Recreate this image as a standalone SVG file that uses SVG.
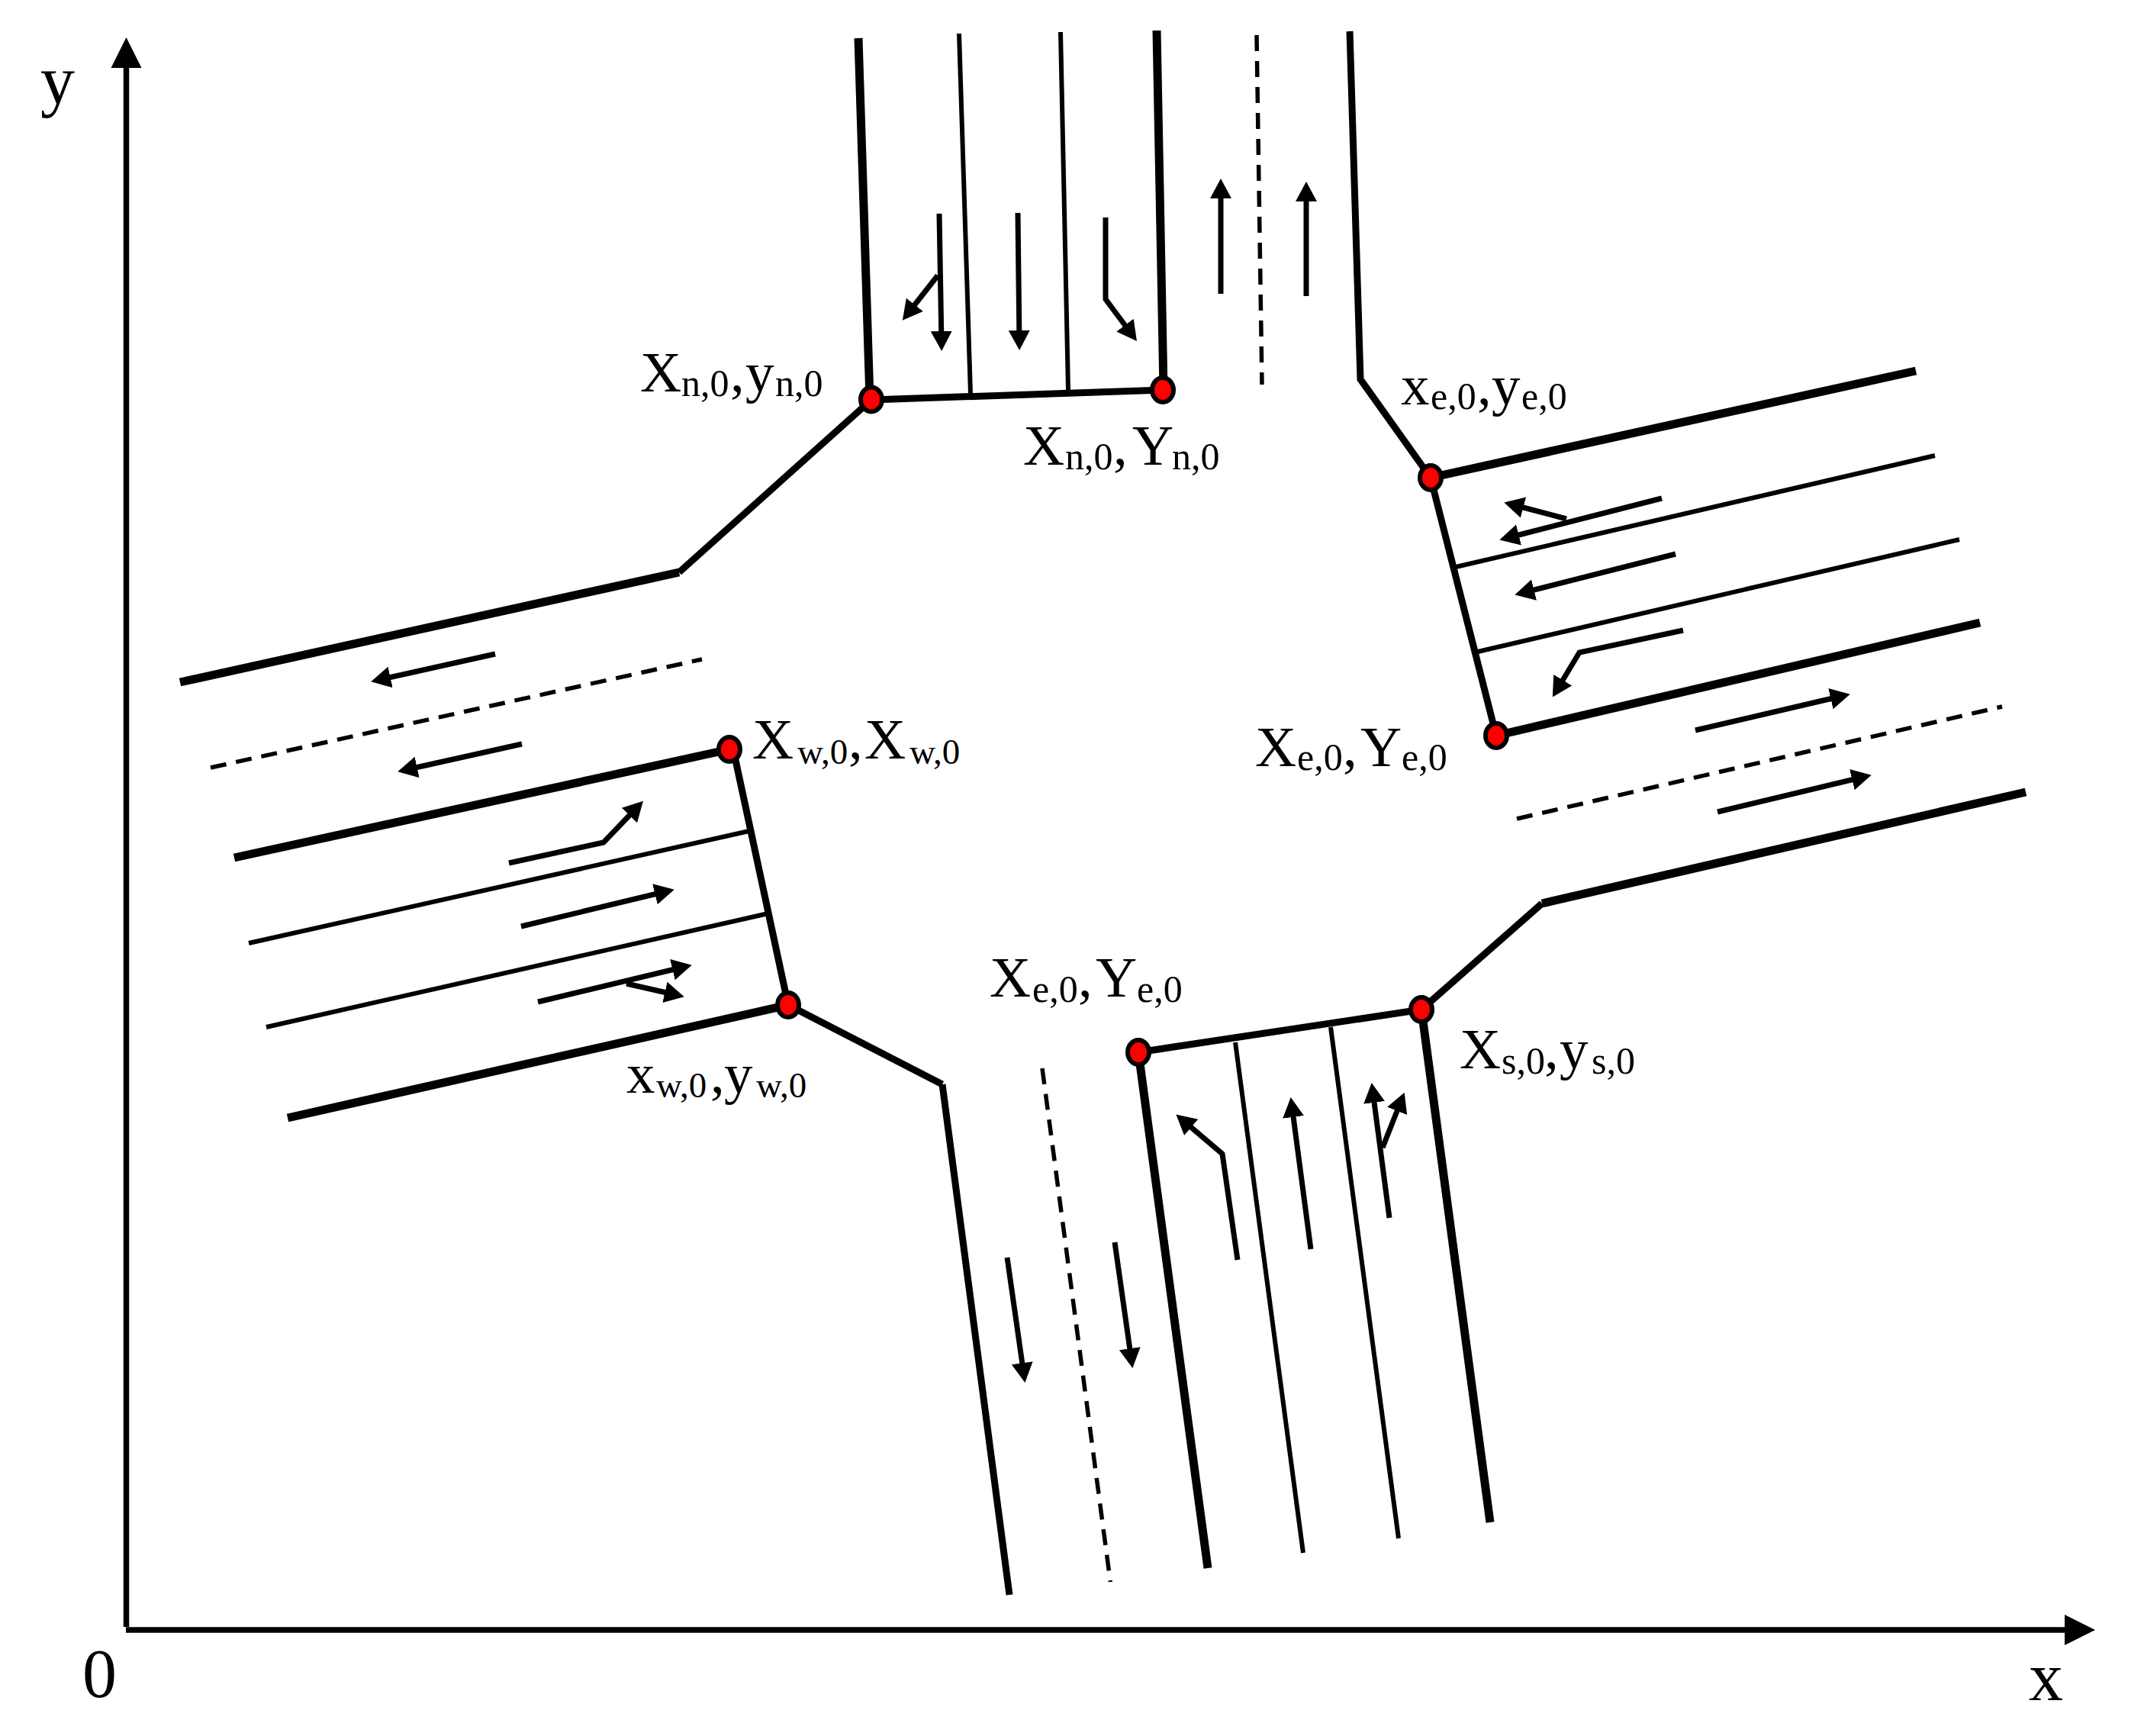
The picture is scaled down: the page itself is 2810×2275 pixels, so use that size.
<svg xmlns="http://www.w3.org/2000/svg" width="2810" height="2275" viewBox="0 0 2810 2275">
<style>
.thick{fill:none;stroke:#000;stroke-width:11}
.mid{fill:none;stroke:#000;stroke-width:9}
.thin{fill:none;stroke:#000;stroke-width:6}
.dash{fill:none;stroke:#000;stroke-width:5.5;stroke-dasharray:21 13}
.arr{fill:none;stroke:#000;stroke-width:7;marker-end:url(#head)}
.axis{fill:none;stroke:#000;stroke-width:7.5;marker-end:url(#axhead)}
.dot{fill:#f00;stroke:#000;stroke-width:6}
text{font-family:"Liberation Serif","Times New Roman",serif;fill:#000}
.b{font-size:75px}
.s{font-size:50px}
.w{font-size:47px}
.ax{font-size:90px}
</style>
<defs>
<marker id="head" markerUnits="userSpaceOnUse" markerWidth="32" markerHeight="32" viewBox="0 -16 32 32" refX="16" refY="0" orient="auto"><polygon points="0,-14 26,0 0,14"/></marker>
<marker id="axhead" markerUnits="userSpaceOnUse" markerWidth="44" markerHeight="44" viewBox="0 -22 44 44" refX="5" refY="0" orient="auto"><polygon points="0,-20 40,0 0,20"/></marker>
</defs>
<rect width="2810" height="2275" fill="#fff"/>
<g id="axes">
<path class="axis" d="M165.5,2132V84"/>
<path class="axis" d="M165,2136H2711"/>
<text class="ax" x="53" y="136">y</text>
<text class="ax" x="108" y="2224">0</text>
<text class="ax" x="2659" y="2228">x</text>
</g>
<g id="connectors">
<path class="thick" d="M1125,50L1140,523"/>
<path class="thin" d="M1257,44L1272,516"/>
<path class="thin" d="M1390,42L1400,511"/>
<path class="thick" d="M1516,40L1525,511"/>
<path class="mid" d="M1142,524L1525,511"/>
<path class="dash" d="M1647,46L1654,504"/>
<path class="mid" d="M1769,41L1783,497L1875,626"/>
<path class="mid" d="M1142,524L890,750"/>
<path class="thick" d="M890,750L236,894"/>
<path class="thick" d="M1875,626L2511,486"/>
<path class="thin" d="M1908,743L2536,597"/>
<path class="thin" d="M1937,854L2568,707"/>
<path class="thick" d="M1961,964L2595,816"/>
<path class="mid" d="M1875,626L1961,964"/>
<path class="dash" d="M1988,1073L2624,926"/>
<path class="mid" d="M1863,1323L2021,1184"/>
<path class="thick" d="M2021,1184L2655,1038"/>
<path class="dash" d="M276,1006L920,864"/>
<path class="thick" d="M307,1124L956,982"/>
<path class="thin" d="M326,1236L982,1089"/>
<path class="thin" d="M349,1346L1007,1197"/>
<path class="thick" d="M377,1465L1033,1317"/>
<path class="mid" d="M961,982L1033,1317"/>
<path class="mid" d="M1033,1317L1235,1421"/>
<path class="mid" d="M1235,1421L1323,2090"/>
<path class="dash" style="stroke-dasharray:21 12.85" d="M1366,1400L1455.3,2073"/>
<path class="mid" d="M1492,1379L1863,1323"/>
<path class="thick" d="M1492,1379L1583,2055"/>
<path class="thin" d="M1619,1366L1708,2035"/>
<path class="thin" d="M1744,1346L1833,2016"/>
<path class="thick" d="M1863,1323L1953,1995"/>
<path class="arr" d="M1231,280L1234,450"/>
<path class="arr" d="M1229,361L1189,412"/>
<path class="arr" d="M1334,279L1336,449"/>
<path class="arr" d="M1449,285V392L1484,439"/>
<path class="arr" d="M1600,385V244"/>
<path class="arr" d="M1712,388V248"/>
<path class="arr" d="M2178,653L1975,705"/>
<path class="arr" d="M2053,680L1981,661"/>
<path class="arr" d="M2196,726L1995,777"/>
<path class="arr" d="M2206,826L2070,855L2040,905"/>
<path class="arr" d="M2222,957L2415,912"/>
<path class="arr" d="M2251,1064L2443,1018"/>
<path class="arr" d="M649,857L496,891"/>
<path class="arr" d="M684,975L531,1009"/>
<path class="arr" d="M667,1131L791,1104L836,1057"/>
<path class="arr" d="M683,1214L874,1168"/>
<path class="arr" d="M705,1313L897,1267"/>
<path class="arr" d="M821,1289L887,1304"/>
<path class="arr" d="M1320,1648L1342,1802"/>
<path class="arr" d="M1461,1628L1483,1783"/>
<path class="arr" d="M1622,1651L1602,1512L1549,1467"/>
<path class="arr" d="M1718,1637L1693,1448"/>
<path class="arr" d="M1821,1596L1799,1429"/>
<path class="arr" d="M1812,1504L1837,1441"/>
</g>
<g id="node-n1"><ellipse class="dot" cx="1142" cy="523.5" rx="14" ry="16"/>
<text><tspan class="b" x="839" y="513">X</tspan><tspan class="s" x="893" y="519">n,0</tspan><tspan class="b" x="957" y="513">,</tspan><tspan class="b" x="977" y="513">y</tspan><tspan class="s" x="1016" y="519">n,0</tspan></text></g>
<g id="node-n2"><ellipse class="dot" cx="1524" cy="511" rx="14" ry="16"/>
<text><tspan class="b" x="1341" y="609">X</tspan><tspan class="s" x="1396" y="615">n,0</tspan><tspan class="b" x="1459" y="609">,</tspan><tspan class="b" x="1484" y="609">Y</tspan><tspan class="s" x="1536" y="615">n,0</tspan></text></g>
<g id="node-e1"><ellipse class="dot" cx="1875" cy="626" rx="14" ry="16"/>
<text><tspan class="b" x="1836" y="530">x</tspan><tspan class="s" x="1875" y="536">e,0</tspan><tspan class="b" x="1936" y="530">,</tspan><tspan class="b" x="1955" y="530">y</tspan><tspan class="s" x="1994" y="536">e,0</tspan></text></g>
<g id="node-e2"><ellipse class="dot" cx="1961" cy="964" rx="14" ry="16"/>
<text><tspan class="b" x="1645" y="1004">X</tspan><tspan class="s" x="1700" y="1009">e,0</tspan><tspan class="b" x="1760" y="1004">,</tspan><tspan class="b" x="1783" y="1004">Y</tspan><tspan class="s" x="1837" y="1009">e,0</tspan></text></g>
<g id="node-w1"><ellipse class="dot" cx="956" cy="982" rx="14" ry="16"/>
<text><tspan class="b" x="986" y="994">X</tspan><tspan class="w" x="1045" y="1001">w,0</tspan><tspan class="b" x="1112" y="994">,</tspan><tspan class="b" x="1133" y="994">X</tspan><tspan class="w" x="1192" y="1001">w,0</tspan></text></g>
<g id="node-w2"><ellipse class="dot" cx="1033" cy="1317" rx="14" ry="16"/>
<text><tspan class="b" x="821" y="1432">x</tspan><tspan class="w" x="860" y="1438">w,0</tspan><tspan class="b" x="931" y="1432">,</tspan><tspan class="b" x="949" y="1432">y</tspan><tspan class="w" x="991" y="1438">w,0</tspan></text></g>
<g id="node-s1"><ellipse class="dot" cx="1492" cy="1379" rx="14" ry="16"/>
<text><tspan class="b" x="1297" y="1306">X</tspan><tspan class="s" x="1353" y="1313">e,0</tspan><tspan class="b" x="1413" y="1306">,</tspan><tspan class="b" x="1436" y="1306">Y</tspan><tspan class="s" x="1490" y="1313">e,0</tspan></text></g>
<g id="node-s2"><ellipse class="dot" cx="1863" cy="1323" rx="14" ry="16"/>
<text><tspan class="b" x="1913" y="1400">X</tspan><tspan class="s" x="1968" y="1407">s,0</tspan><tspan class="b" x="2024" y="1400">,</tspan><tspan class="b" x="2044" y="1400">y</tspan><tspan class="s" x="2086" y="1407">s,0</tspan></text></g>
</svg>
